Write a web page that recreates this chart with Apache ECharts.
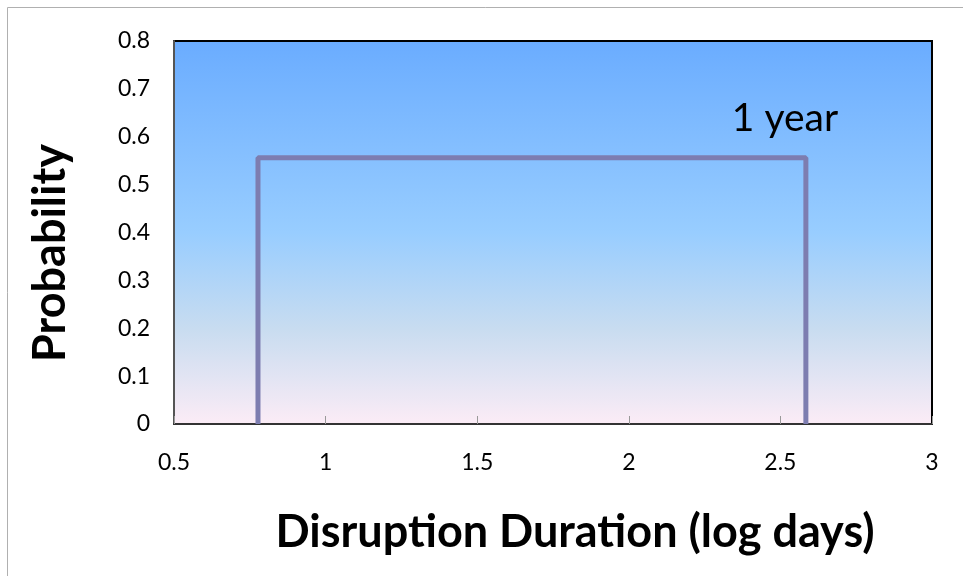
<!DOCTYPE html>
<html>
<head>
<meta charset="utf-8">
<script src="https://cdn.jsdelivr.net/npm/echarts@6/dist/echarts.min.js"></script>
<style>html,body{margin:0;padding:0;background:#fff;}#c{width:963px;height:576px;}</style>
</head>
<body>
<div id="c"></div>
<script>
// Data
var xLogDays = [0.777, 0.777, 1.146, 1.414, 1.707, 1.994, 2.288, 2.584, 2.584];
var probability = [0, 0.556, 0.556, 0.556, 0.556, 0.556, 0.556, 0.556, 0];
var xTicks = [0.5, 1, 1.5, 2, 2.5, 3];
var yTicks = [0, 0.1, 0.2, 0.3, 0.4, 0.5, 0.6, 0.7, 0.8];
var annotation = '1 year';
var annotationAt = [2.515, 0.639];
var xTitle = 'Disruption Duration (log days)';
var yTitle = 'Probability';

var pts = xLogDays.map(function (x, i) { return [x, probability[i]]; });
var font = 'Lato, "Open Sans", sans-serif';
var chart = echarts.init(document.getElementById('c'));
chart.setOption({
  animation: false,
  grid: {
    left: 174, right: 31, top: 41, bottom: 152,
    show: true, borderColor: '#000', borderWidth: 2,
    backgroundColor: new echarts.graphic.LinearGradient(0, 0, 0, 1, [
      { offset: 0, color: '#6aacff' },
      { offset: 0.5, color: '#98cdff' },
      { offset: 0.75, color: '#c8dcf0' },
      { offset: 1, color: '#fcecf6' }
    ])
  },
  xAxis: {
    type: 'value', min: xTicks[0], max: xTicks[xTicks.length - 1], interval: 0.5,
    axisLine: { show: true, lineStyle: { color: '#333', width: 2 } },
    axisTick: { show: true, inside: true, length: 8, lineStyle: { color: '#999', width: 1 } },
    splitLine: { show: false },
    axisLabel: { color: '#000', fontSize: 23, fontFamily: font, margin: 27 }
  },
  yAxis: {
    type: 'value', min: yTicks[0], max: yTicks[yTicks.length - 1], interval: 0.1,
    axisLine: { show: true, lineStyle: { color: '#555', width: 2 } },
    axisTick: { show: false },
    splitLine: { show: false },
    axisLabel: { color: '#000', fontSize: 23, fontFamily: font, margin: 24 }
  },
  graphic: [
    { type: 'rect', left: 5, top: 5, shape: { width: 1000, height: 600 },
      style: { fill: 'none', stroke: '#b0b0b0', lineWidth: 1 }, silent: true },
    { type: 'text', x: 575, y: 532, silent: true,
      style: { text: xTitle, fill: '#000', font: 'bold 45px ' + font, align: 'center', verticalAlign: 'middle' } },
    { type: 'text', x: 50, y: 253, rotation: Math.PI / 2, silent: true,
      style: { text: yTitle, fill: '#000', font: 'bold 45px ' + font, align: 'center', verticalAlign: 'middle' } }
  ],
  series: [{
    type: 'line', data: pts, showSymbol: false, symbol: 'none',
    lineStyle: { color: '#7d7db0', width: 5 },
    markPoint: {
      symbol: 'rect', symbolSize: 1, itemStyle: { color: 'rgba(0,0,0,0)' },
      label: { show: true, formatter: annotation, color: '#000', fontSize: 39, fontFamily: font, position: 'inside' },
      data: [{ coord: annotationAt }]
    }
  }]
});
</script>
</body>
</html>
